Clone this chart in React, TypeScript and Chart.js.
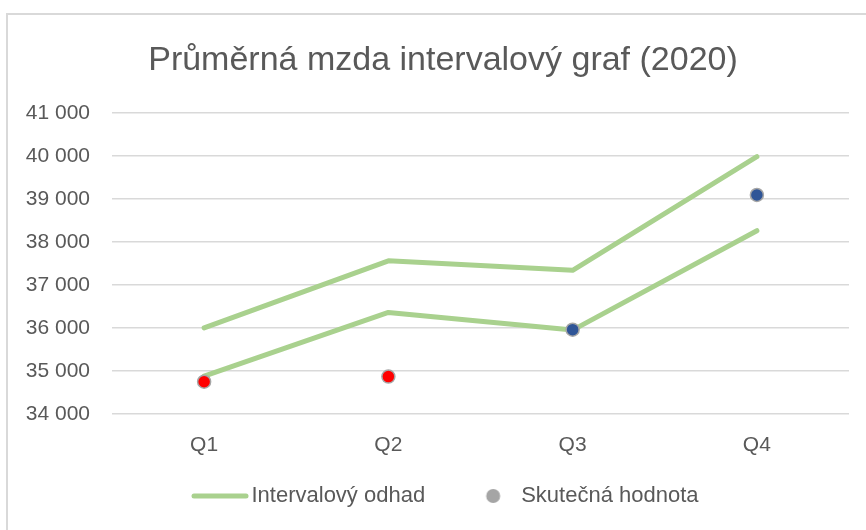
import React, { useEffect, useRef } from "react";
import { Chart, registerables } from "chart.js";

Chart.register(...registerables);

const chartTitle = "Průměrná mzda intervalový graf (2020)";
const categories = ["Q1", "Q2", "Q3", "Q4"];
const upperBound = [36000, 37560, 37340, 39980];
const lowerBound = [34880, 36360, 35950, 38260];
const actualValues = [34750, 34870, 35960, 39090];
const actualColors = ["#FF0000", "#FF0000", "#2F5597", "#2F5597"];
const intervalLabel = "Intervalový odhad";
const actualLabel = "Skutečná hodnota";
const yMin = 34000;
const yMax = 41000;
const yStep = 1000;

const FONT = "'Liberation Sans', Arial, sans-serif";
const TEXT = "#595959";
const GREEN = "#A9D18E";
const GRID = "#D9D9D9";
const LEGEND_GRAY = "#A5A5A5";

function fmt(v: number): string {
  return String(Math.round(v)).replace(/\B(?=(\d{3})+(?!\d))/g, " ");
}

// legend marker images (drawn centred on the legend box by Chart.js)
function makeLineMarker(): HTMLCanvasElement {
  const c = document.createElement("canvas");
  c.width = 76;
  c.height = 8;
  const g = c.getContext("2d")!;
  g.strokeStyle = GREEN;
  g.lineWidth = 5;
  g.lineCap = "round";
  g.beginPath();
  g.moveTo(20, 4);
  g.lineTo(72, 4);
  g.stroke();
  return c;
}

function makeDotMarker(): HTMLCanvasElement {
  const c = document.createElement("canvas");
  c.width = 40;
  c.height = 16;
  const g = c.getContext("2d")!;
  g.fillStyle = LEGEND_GRAY;
  g.beginPath();
  g.arc(31.5, 8, 7, 0, Math.PI * 2);
  g.fill();
  return c;
}

const shiftBoxes = {
  id: "shiftBoxes",
  afterLayout(chart: any) {
    const t = chart.titleBlock;
    if (t) {
      t.left += 18.5;
      t.right += 18.5;
    }
    const l = chart.legend;
    if (l) {
      l.left += 16.5;
      l.right += 16.5;
    }
  },
};

export default function App() {
  const ref = useRef<HTMLCanvasElement | null>(null);

  useEffect(() => {
    if (!ref.current) return;
    const lineMarker = makeLineMarker();
    const dotMarker = makeDotMarker();
    const chart = new Chart(ref.current, {
      type: "line",
      data: {
        labels: categories,
        datasets: [
          {
            label: intervalLabel,
            data: upperBound,
            borderColor: GREEN,
            backgroundColor: GREEN,
            borderWidth: 5,
            pointRadius: 0,
            pointHoverRadius: 0,
            borderCapStyle: "round",
            borderJoinStyle: "round",
            tension: 0,
            fill: false,
            order: 1,
          },
          {
            label: intervalLabel + " (dolní)",
            data: lowerBound,
            borderColor: GREEN,
            backgroundColor: GREEN,
            borderWidth: 5,
            pointRadius: 0,
            pointHoverRadius: 0,
            borderCapStyle: "round",
            borderJoinStyle: "round",
            tension: 0,
            fill: false,
            order: 1,
          },
          {
            label: actualLabel,
            data: actualValues,
            showLine: false,
            backgroundColor: LEGEND_GRAY,
            borderColor: LEGEND_GRAY,
            pointBackgroundColor: actualColors,
            pointBorderColor: "#A6A6A6",
            pointBorderWidth: 1.5,
            pointRadius: 6.5,
            pointHoverRadius: 6.5,
            order: 0,
          },
        ],
      },
      plugins: [shiftBoxes],
      options: {
        responsive: false,
        animation: false,
        layout: { padding: { left: 0, right: 17, top: 0, bottom: 13 } },
        plugins: {
          title: {
            display: true,
            text: chartTitle,
            color: TEXT,
            font: { family: FONT, size: 34, weight: "normal" },
            padding: { top: 40, bottom: 32 },
          },
          legend: {
            display: true,
            position: "bottom",
            labels: {
              usePointStyle: true,
              pointStyleWidth: 57,
              boxHeight: 10,
              padding: 28,
              color: TEXT,
              font: { family: FONT, size: 22 },
              generateLabels: () => [
                {
                  text: intervalLabel,
                  datasetIndex: 0,
                  pointStyle: lineMarker,
                  fillStyle: GREEN,
                  strokeStyle: GREEN,
                  lineWidth: 0,
                  hidden: false,
                  fontColor: TEXT,
                },
                {
                  text: actualLabel,
                  datasetIndex: 2,
                  pointStyle: dotMarker,
                  fillStyle: LEGEND_GRAY,
                  strokeStyle: LEGEND_GRAY,
                  lineWidth: 0,
                  hidden: false,
                  fontColor: TEXT,
                },
              ],
            },
          },
          tooltip: { enabled: false },
        },
        scales: {
          x: {
            offset: true,
            grid: { display: false, drawTicks: false },
            border: { display: false },
            ticks: {
              color: TEXT,
              font: { family: FONT, size: 21 },
              padding: 19,
            },
            afterFit: (scale: any) => {
              scale.height = 43;
            },
          },
          y: {
            min: yMin,
            max: yMax,
            grid: { color: GRID, lineWidth: 1.5, drawTicks: false },
            border: { display: false },
            ticks: {
              stepSize: yStep,
              color: TEXT,
              font: { family: FONT, size: 21 },
              padding: 22,
              callback: (v: any) => fmt(Number(v)),
            },
            afterFit: (scale: any) => {
              scale.width = 112;
            },
          },
        },
      },
    });
    return () => chart.destroy();
  }, []);

  return (
    <div
      style={{
        position: "absolute",
        left: 0,
        top: 0,
        width: 866,
        height: 530,
        overflow: "hidden",
        background: "#FFFFFF",
      }}
    >
      <div
        style={{
          position: "absolute",
          left: 6,
          top: 13,
          width: 900,
          height: 600,
          borderLeft: "2px solid #D9D9D9",
          borderTop: "2px solid #D9D9D9",
        }}
      />
      <canvas
        ref={ref}
        width={866}
        height={530}
        style={{ position: "absolute", left: 0, top: 0, width: 866, height: 530 }}
      />
    </div>
  );
}
